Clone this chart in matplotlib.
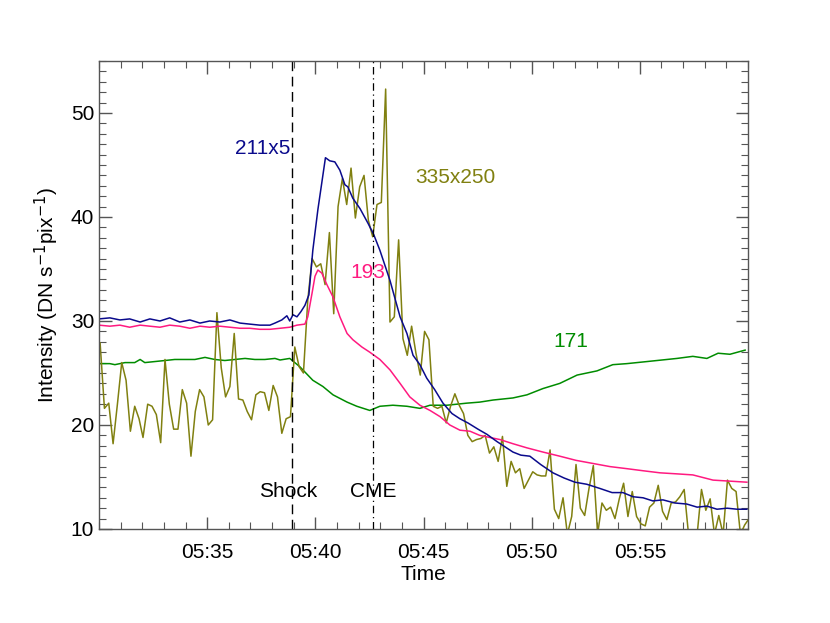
import numpy as np
import matplotlib
matplotlib.use('Agg')
import matplotlib.pyplot as plt
import matplotlib.dates as mdates
from matplotlib.ticker import MultipleLocator

plt.rcParams['font.family'] = ['Liberation Sans', 'DejaVu Sans']
plt.rcParams['mathtext.fontset'] = 'custom'
plt.rcParams['mathtext.rm'] = 'Liberation Sans'
plt.rcParams['mathtext.it'] = 'Liberation Sans'
plt.rcParams['mathtext.default'] = 'regular'

# minutes after 05:30 and intensities
t211 = [0, 0.51, 0.97, 1.43, 1.90, 2.36, 2.82, 3.28, 3.74, 4.21, 4.67, 5.13, 5.59, 6.06,
        6.52, 6.98, 7.44, 7.91, 8.14, 8.46, 8.69, 8.83, 8.97, 9.15, 9.34, 9.52, 9.71,
        9.89, 10.12, 10.48, 10.68, 10.91, 11.14, 11.37, 11.51, 11.74, 12.07, 12.44,
        12.71, 12.99, 13.45, 13.92, 14.24, 14.52, 14.84, 15.16, 15.53, 15.90, 16.32,
        16.69, 17.06, 17.52, 17.94, 18.40, 18.77, 19.14, 19.51, 19.93, 20.43, 20.99,
        21.50, 22.01, 22.56, 23.16, 23.72, 24.23, 24.69, 25.15, 25.61, 26.08, 26.63,
        27.18, 27.65, 28.11, 28.57, 29.04, 29.50, 29.96]
v211 = [30.2, 30.3, 30.1, 30.2, 29.9, 30.2, 30.0, 30.3, 29.9, 30.1, 29.8, 30.0, 29.9, 30.1,
        29.8, 29.7, 29.6, 29.6, 29.8, 30.1, 30.5, 30.0, 30.6, 30.4, 30.9, 31.5, 32.5,
        36.8, 40.7, 45.7, 45.4, 45.3, 44.5, 43.1, 42.9, 41.8, 40.8, 39.4,
        38.3, 36.8, 33.9, 30.4, 28.8, 26.7, 25.8, 24.5, 23.4, 22.1, 21.1,
        20.6, 20.2, 19.6, 19.1, 18.4, 17.9, 17.4, 17.1, 17.0, 16.2, 15.4,
        14.9, 14.5, 14.3, 13.9, 13.5, 13.5, 13.1, 13.0, 12.7, 12.8, 12.5,
        12.4, 12.1, 12.2, 11.9, 12.0, 11.9, 11.9]

t193 = [0, 0.51, 0.97, 1.43, 1.90, 2.36, 2.82, 3.28, 3.74, 4.21, 4.67, 5.13, 5.59, 6.06,
        6.52, 6.98, 7.44, 7.91, 8.37, 8.83, 9.15, 9.52, 9.66, 9.85, 9.99, 10.12, 10.31,
        10.54, 10.82, 11.14, 11.47, 11.74, 12.16, 12.53, 12.99, 13.45, 13.92, 14.38,
        14.84, 15.30, 15.77, 16.23, 16.69, 17.15, 17.61, 18.08, 18.54, 19.14, 19.79,
        20.53, 21.31, 22.05, 22.84, 23.63, 24.41, 25.15, 25.94, 26.72, 27.46, 28.39,
        29.17, 29.96]
v193 = [29.6, 29.5, 29.6, 29.4, 29.6, 29.5, 29.4, 29.6, 29.5, 29.3, 29.5, 29.4, 29.5, 29.4,
        29.3, 29.3, 29.2, 29.2, 29.3, 29.4, 29.6, 29.7, 30.4, 32.7, 34.3, 34.9, 34.6,
        33.5, 32.3, 30.4, 28.8, 28.2, 27.5, 27.0, 26.3, 25.3, 24.0, 22.7,
        21.9, 21.4, 20.8, 20.0, 19.5, 19.4, 19.0, 18.8, 18.6, 18.2, 17.8,
        17.4, 17.0, 16.6, 16.3, 16.0, 15.8, 15.6, 15.4, 15.3, 15.2, 14.7,
        14.6, 14.5]

t171 = [0, 0.51, 0.74, 1.20, 1.66, 1.90, 2.13, 2.59, 3.05, 3.51, 3.98, 4.44, 4.90, 5.36,
        5.83, 6.29, 6.75, 7.21, 7.67, 8.14, 8.37, 8.83, 9.29, 9.89, 10.36, 10.82, 11.47,
        11.93, 12.53, 12.99, 13.59, 14.24, 14.84, 15.30, 16.09, 17.01, 17.61, 18.22,
        19.14, 19.79, 20.53, 21.31, 22.10, 23.02, 23.76, 24.41, 25.34, 26.72, 27.46,
        28.11, 28.62, 29.17, 29.87]
v171 = [25.9, 25.9, 25.8, 26.0, 26.0, 26.3, 26.0, 26.1, 26.2, 26.3, 26.3, 26.3, 26.5, 26.3,
        26.2, 26.3, 26.4, 26.3, 26.3, 26.4, 26.25, 26.4, 25.6, 24.3, 23.7, 22.9, 22.2,
        21.8, 21.4, 21.8, 21.9, 21.8, 21.6, 21.9, 21.9, 22.1, 22.2, 22.4,
        22.6, 22.9, 23.5, 24.0, 24.8, 25.2, 25.8, 25.9, 26.1, 26.4, 26.6,
        26.4, 26.9, 26.8, 27.2]

# 335 channel, 12 s cadence starting 05:30:03
v335 = [27.9, 21.6, 22.1, 18.2, 22.0, 26.0, 24.3, 19.4, 21.8, 20.6, 18.8, 22.0, 21.8, 21.0,
        18.3, 26.3, 22.0, 19.6, 19.6, 23.4, 22.1, 17.0, 21.3, 23.4, 22.7, 20.0, 20.5, 30.8,
        25.5, 22.7, 23.7, 28.8, 22.5, 22.4, 21.3, 20.5, 22.9, 23.2, 23.1, 21.4, 23.8, 22.7,
        19.2, 20.6, 20.8, 27.5, 25.6, 25.0, 32.0,
        36.0, 35.2, 35.5, 33.5, 38.5, 30.7, 41.0, 43.7, 41.2, 44.7, 39.9, 42.9, 44.0, 39.7,
        38.1, 41.2, 41.4, 52.3, 29.9, 30.4, 37.8, 28.3, 26.7, 29.5, 26.9, 24.8, 29.0, 28.2,
        21.8, 21.6, 21.8, 20.2, 21.8, 23.0, 21.9, 21.1, 19.0, 18.4, 18.6, 18.7,
        19.0, 17.3, 17.9, 16.5, 18.9, 14.1, 16.5, 15.4, 15.8, 13.9, 14.7, 15.5, 15.2,
        15.1, 15.1, 17.6, 11.9, 11.0, 13.0, 9.5, 11.2, 16.2, 12.0, 11.3, 13.9, 16.1, 9.5,
        12.5, 11.8, 12.1, 11.0, 12.9, 14.4, 11.2, 13.6, 11.2, 10.5, 10.3, 12.1, 12.5, 14.2,
        11.7, 10.9, 12.5, 12.6, 13.1, 13.8, 9.5, 9.0, 9.5, 13.8, 11.8, 12.9, 9.5, 11.3,
        9.5, 14.7, 13.9, 13.6, 9.5, 10.4, 11.0]

t_shock = 8.92
t_cme = 12.67

base = np.datetime64('2011-01-01T05:30:00')


def to_time(minutes):
    return base + (np.asarray(minutes) * 60).astype('timedelta64[s]')


t335 = to_time(3 / 60 + np.arange(len(v335)) * 0.2)

fig = plt.figure(figsize=(8.3, 6.23), dpi=100)
ax = fig.add_axes([0.1193, 0.1509, 0.7819, 0.7512])

ax.plot(to_time(t171), v171, color='#008c00', lw=1.1)
ax.plot(t335, v335, color='#808010', lw=1.1)
ax.plot(to_time(t193), v193, color='#ff1a80', lw=1.1)
ax.plot(to_time(t211), v211, color='#0a0a8c', lw=1.1)

ax.axvline(to_time(t_shock), color='black', lw=1, ls=(0, (7, 4)))
ax.axvline(to_time(t_cme), color='black', lw=0.9, ls=(0, (6, 3, 1, 3)))

fs = 15
ax.text(to_time(8.88), 46.6, '211x5', color='#0a0a8c', fontsize=fs, ha='right', va='center')
ax.text(to_time(14.61), 43.75, '335x250', color='#808010', fontsize=fs, ha='left', va='center')
ax.text(to_time(11.6), 34.7, '193', color='#ff1a80', fontsize=fs, ha='left', va='center')
ax.text(to_time(20.99), 28.0, '171', color='#008c00', fontsize=fs, ha='left', va='center')
ax.text(to_time(8.74), 13.65, 'Shock', color='black', fontsize=fs, ha='center', va='center')
ax.text(to_time(12.67), 13.65, 'CME', color='black', fontsize=fs, ha='center', va='center')

ax.set_xlim(to_time(0), to_time(30))
ax.set_ylim(10, 55)
ax.xaxis.set_major_locator(mdates.MinuteLocator(byminute=[35, 40, 45, 50, 55]))
ax.xaxis.set_minor_locator(mdates.MinuteLocator())
ax.xaxis.set_major_formatter(mdates.DateFormatter('%H:%M'))
ax.yaxis.set_major_locator(MultipleLocator(10))
ax.yaxis.set_minor_locator(MultipleLocator(1))

ax.tick_params(which='both', direction='in', top=True, right=True, labelsize=fs,
               color='#555555')
ax.tick_params(which='major', length=9, width=1)
ax.tick_params(which='minor', length=5, width=0.8)
ax.tick_params(axis='x', pad=10)
for s in ax.spines.values():
    s.set_color('#555555')
    s.set_linewidth(1)

ax.set_xlabel('Time', fontsize=fs, labelpad=2)
ax.set_ylabel('Intensity (DN s$^{\\mathsf{-1}}$pix$^{\\mathsf{-1}}$)', fontsize=fs, labelpad=7)

fig.savefig('out.png', dpi=100)
